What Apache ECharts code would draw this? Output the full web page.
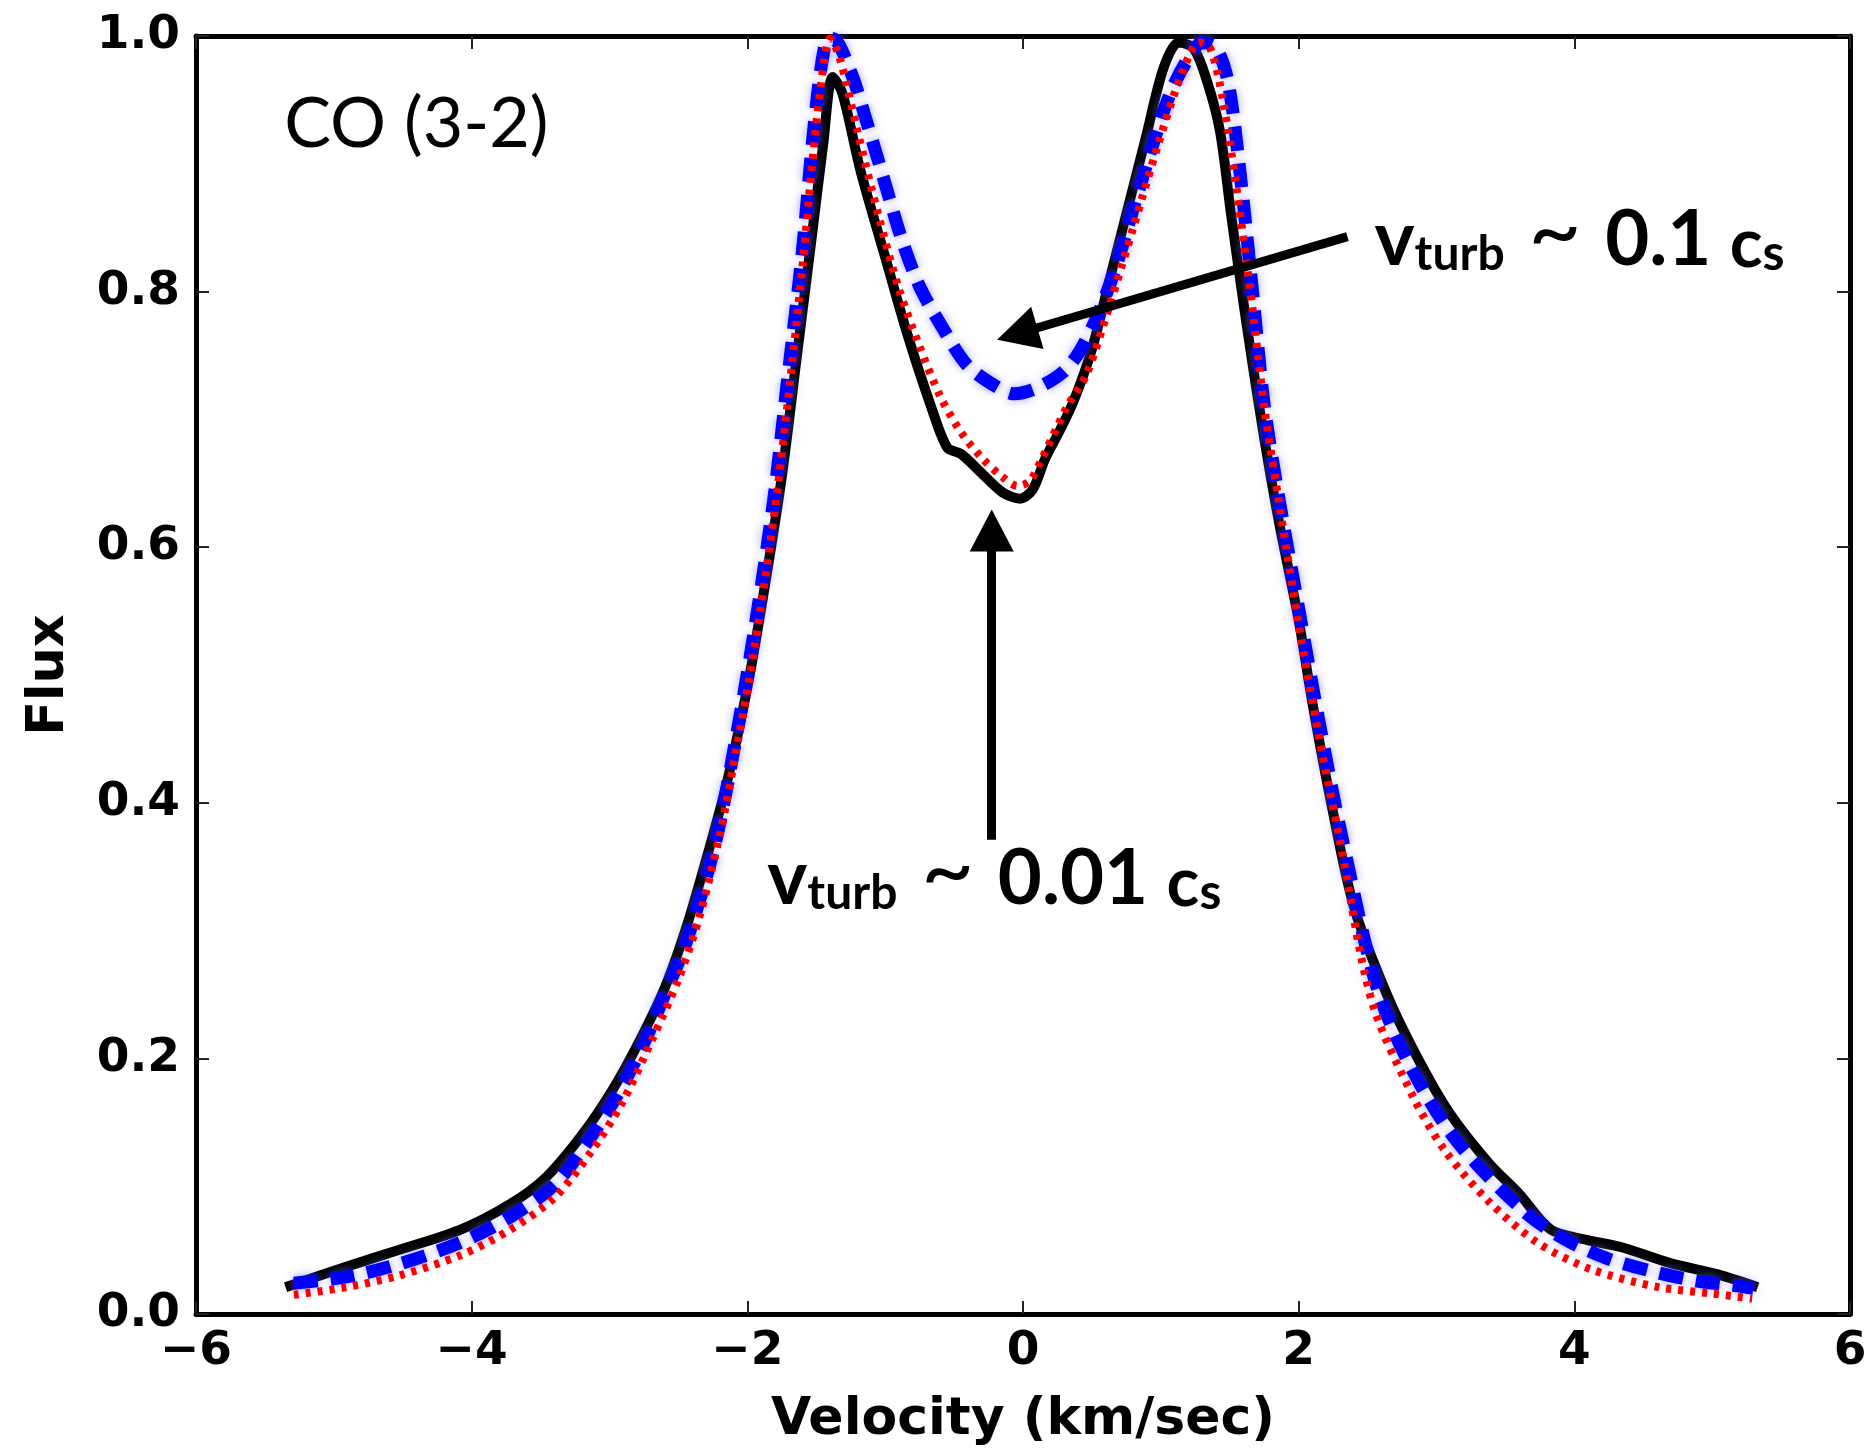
<!DOCTYPE html>
<html>
<head>
<meta charset="utf-8">
<script src="https://cdn.jsdelivr.net/npm/echarts@6/dist/echarts.min.js"></script>
<style>
  html, body { margin: 0; padding: 0; background: #fff; }
  #chart { width: 1873px; height: 1451px; }
</style>
</head>
<body>
<div id="chart"></div>
<script>
// ---- data ----
const xTicks = [-6, -4, -2, 0, 2, 4, 6];
const yTicks = [0.0, 0.2, 0.4, 0.6, 0.8, 1.0];

// v_turb ~ 0.01 c_s (black solid)
const velBlack = [-5.35,-4.91,-4.53,-4.08,-3.72,-3.46,-3.2,-2.98,-2.79,-2.6,-2.45,-2.3,-2.15,-2.0,-1.88,-1.75,-1.64,-1.53,-1.45,-1.38,-1.31,-1.18,-1.0,-0.84,-0.67,-0.55,-0.45,-0.32,-0.15,-0.02,0.07,0.16,0.27,0.37,0.5,0.63,0.76,0.89,1.02,1.13,1.24,1.34,1.43,1.51,1.62,1.74,1.86,2.0,2.1,2.23,2.4,2.64,2.85,3.09,3.38,3.6,3.83,4.09,4.35,4.69,5.04,5.33];
const fluxBlack = [0.021,0.037,0.05,0.066,0.086,0.107,0.14,0.175,0.212,0.255,0.3,0.355,0.415,0.49,0.565,0.655,0.75,0.845,0.915,0.968,0.955,0.895,0.827,0.767,0.711,0.678,0.673,0.66,0.643,0.638,0.645,0.669,0.692,0.715,0.755,0.81,0.865,0.92,0.975,0.995,0.99,0.963,0.925,0.86,0.776,0.692,0.618,0.543,0.478,0.403,0.319,0.25,0.203,0.158,0.118,0.094,0.066,0.058,0.052,0.04,0.031,0.021];

// v_turb ~ 0.1 c_s (blue dashed)
const velBlue = [-5.29,-4.91,-4.53,-4.08,-3.72,-3.4,-3.17,-2.94,-2.75,-2.6,-2.44,-2.24,-2.1,-1.95,-1.81,-1.71,-1.6,-1.52,-1.44,-1.38,-1.25,-1.14,-1.01,-0.88,-0.75,-0.58,-0.41,-0.23,-0.06,0.11,0.29,0.41,0.54,0.67,0.8,0.93,1.06,1.19,1.3,1.4,1.49,1.58,1.67,1.75,1.86,2.0,2.14,2.31,2.57,2.83,3.15,3.64,3.94,4.25,4.58,4.88,5.19,5.3];
const fluxBlue = [0.024,0.029,0.039,0.056,0.076,0.101,0.133,0.172,0.212,0.25,0.292,0.365,0.44,0.534,0.636,0.729,0.832,0.925,0.991,0.998,0.972,0.935,0.888,0.841,0.804,0.771,0.743,0.728,0.72,0.725,0.737,0.753,0.781,0.818,0.865,0.911,0.953,0.981,0.995,0.991,0.963,0.888,0.795,0.711,0.636,0.552,0.468,0.375,0.255,0.19,0.135,0.08,0.058,0.043,0.033,0.026,0.022,0.02];

// red dotted
const velRed = [-5.29,-4.91,-4.53,-4.08,-3.72,-3.4,-3.14,-2.91,-2.69,-2.5,-2.35,-2.2,-2.1,-1.95,-1.8,-1.7,-1.6,-1.52,-1.45,-1.4,-1.33,-1.2,-1.05,-0.9,-0.75,-0.6,-0.45,-0.3,-0.15,-0.04,0.05,0.15,0.32,0.46,0.63,0.8,0.98,1.15,1.28,1.36,1.45,1.55,1.65,1.75,1.85,2.0,2.15,2.3,2.53,2.83,3.06,3.38,3.73,4.12,4.61,5.0,5.29];
const fluxRed = [0.015,0.021,0.03,0.046,0.066,0.091,0.126,0.165,0.215,0.262,0.31,0.375,0.43,0.52,0.63,0.72,0.82,0.91,0.975,0.998,0.983,0.925,0.86,0.802,0.757,0.718,0.69,0.67,0.655,0.648,0.652,0.672,0.71,0.735,0.79,0.85,0.915,0.97,0.995,0.99,0.95,0.88,0.8,0.71,0.64,0.54,0.45,0.37,0.245,0.17,0.128,0.088,0.056,0.035,0.021,0.016,0.012];

// annotation arrows (data coordinates: start, end-of-shaft)
const arrowUpper = [[2.354, 0.843], [-0.042, 0.767]];
const arrowLower = [[-0.227, 0.371], [-0.227, 0.613]];
// annotation text anchors (data coordinates)
const labelCO = [-5.36, 0.9305];
const labelUpper = [2.55, 0.810];
const labelLower = [-1.856, 0.310];

// ---- chart ----
const toPairs = (xs, ys) => xs.map((x, i) => [x, ys[i]]);
const axisFont = 'DejaVu Sans';
const frameLine = { show: true, onZero: false, lineStyle: { color: '#000', width: 5 } };
const innerTick = { show: true, inside: true, length: 13, lineStyle: { color: '#222', width: 2 } };

const chart = echarts.init(document.getElementById('chart'), null, { renderer: 'canvas' });

const option = {
  animation: false,
  backgroundColor: '#fff',
  grid: { left: 196, right: 23, top: 36, bottom: 134, containLabel: false },
  xAxis: [
    {
      type: 'value', min: xTicks[0], max: xTicks[xTicks.length - 1], interval: 2,
      position: 'bottom',
      axisLine: frameLine, axisTick: innerTick, splitLine: { show: false },
      axisLabel: {
        margin: 14, color: '#000', fontFamily: axisFont, fontWeight: 'bold', fontSize: 47,
        formatter: v => String(v).replace('-', '\u2212')
      },
      name: 'Velocity (km/sec)', nameLocation: 'middle', nameGap: 80,
      nameTextStyle: { color: '#000', fontFamily: axisFont, fontWeight: 'bold', fontSize: 52 }
    },
    {
      type: 'value', min: xTicks[0], max: xTicks[xTicks.length - 1], interval: 2,
      position: 'top',
      axisLine: frameLine, axisTick: innerTick, splitLine: { show: false },
      axisLabel: { show: false }
    }
  ],
  yAxis: [
    {
      type: 'value', min: yTicks[0], max: yTicks[yTicks.length - 1], interval: 0.2,
      position: 'left',
      axisLine: frameLine, axisTick: innerTick, splitLine: { show: false },
      axisLabel: {
        margin: 16, color: '#000', fontFamily: axisFont, fontWeight: 'bold', fontSize: 47,
        formatter: v => v.toFixed(1)
      },
      name: 'Flux', nameLocation: 'middle', nameGap: 121, nameRotate: 90,
      nameTextStyle: { color: '#000', fontFamily: axisFont, fontWeight: 'bold', fontSize: 51 }
    },
    {
      type: 'value', min: yTicks[0], max: yTicks[yTicks.length - 1], interval: 0.2,
      position: 'right',
      axisLine: frameLine, axisTick: innerTick, splitLine: { show: false },
      axisLabel: { show: false }
    }
  ],
  series: [
    {
      name: 'vturb 0.01', type: 'line', data: toPairs(velBlack, fluxBlack),
      showSymbol: false, smooth: 0.3, z: 2, clip: true,
      lineStyle: { color: '#000', width: 10, join: 'round', cap: 'butt' }
    },
    {
      name: 'vturb 0.1', type: 'line', data: toPairs(velBlue, fluxBlue),
      showSymbol: false, smooth: 0.3, z: 3, clip: true,
      lineStyle: {
        color: '#0000ff', width: 13, type: [24, 13], cap: 'butt',
        shadowBlur: 10, shadowColor: 'rgba(110,110,255,0.65)'
      }
    },
    {
      name: 'red', type: 'line', data: toPairs(velRed, fluxRed),
      showSymbol: false, smooth: 0.3, z: 4, clip: true,
      lineStyle: { color: '#ff0000', width: 8, type: [5, 7], cap: 'butt' },
      markLine: {
        silent: true, animation: false,
        symbol: ['none', 'triangle'], symbolSize: [44, 42],
        lineStyle: { color: '#000', width: 9, type: 'solid', cap: 'butt' },
        itemStyle: { color: '#000' },
        label: { show: false },
        emphasis: { disabled: true },
        data: [
          [{ coord: arrowUpper[0] }, { coord: arrowUpper[1] }],
          [{ coord: arrowLower[0] }, { coord: arrowLower[1] }]
        ]
      }
    }
  ]
};
chart.setOption(option);

// ---- text annotations, anchored via the chart's own coordinate conversion ----
const px = c => chart.convertToPixel({ xAxisIndex: 0, yAxisIndex: 0 }, c);
const annFont = 'Lato';
const rich = {
  v:   { fontFamily: annFont, fontWeight: 'bold', fontSize: 76, lineHeight: 80, verticalAlign: 'bottom', fill: '#000' },
  sub: { fontFamily: annFont, fontWeight: 'bold', fontSize: 48, lineHeight: 46, verticalAlign: 'bottom', fill: '#000' },
  tl:  { fontFamily: annFont, fontWeight: 'normal', fontSize: 92, lineHeight: 93, verticalAlign: 'bottom', fill: '#000' },
  big: { fontFamily: annFont, fontWeight: 'bold', fontSize: 76, lineHeight: 80, verticalAlign: 'bottom', fill: '#000' },
  c:   { fontFamily: annFont, fontWeight: 'bold', fontSize: 68, lineHeight: 74, verticalAlign: 'bottom', fill: '#000' },
  s:   { fontFamily: annFont, fontWeight: 'bold', fontSize: 50, lineHeight: 48, verticalAlign: 'bottom', fill: '#000' }
};
function turbText(val) {
  return '{v|v}{sub|turb}{tl| ~ }{big|' + val + ' }{c|c}{s|s}';
}
const pCO = px(labelCO), pU = px(labelUpper), pL = px(labelLower);
chart.setOption({
  graphic: [
    { type: 'text', x: pCO[0], y: pCO[1], z: 100,
      style: { text: 'CO (3-2)', fontFamily: annFont, fontSize: 70, fill: '#000', align: 'left', verticalAlign: 'middle' } },
    { type: 'text', x: pU[0], y: pU[1], z: 100,
      style: { text: turbText('0.1'), rich: rich, align: 'left', verticalAlign: 'bottom' } },
    { type: 'text', x: pL[0], y: pL[1], z: 100,
      style: { text: turbText('0.01'), rich: rich, align: 'left', verticalAlign: 'bottom' } }
  ]
});
</script>
</body>
</html>
